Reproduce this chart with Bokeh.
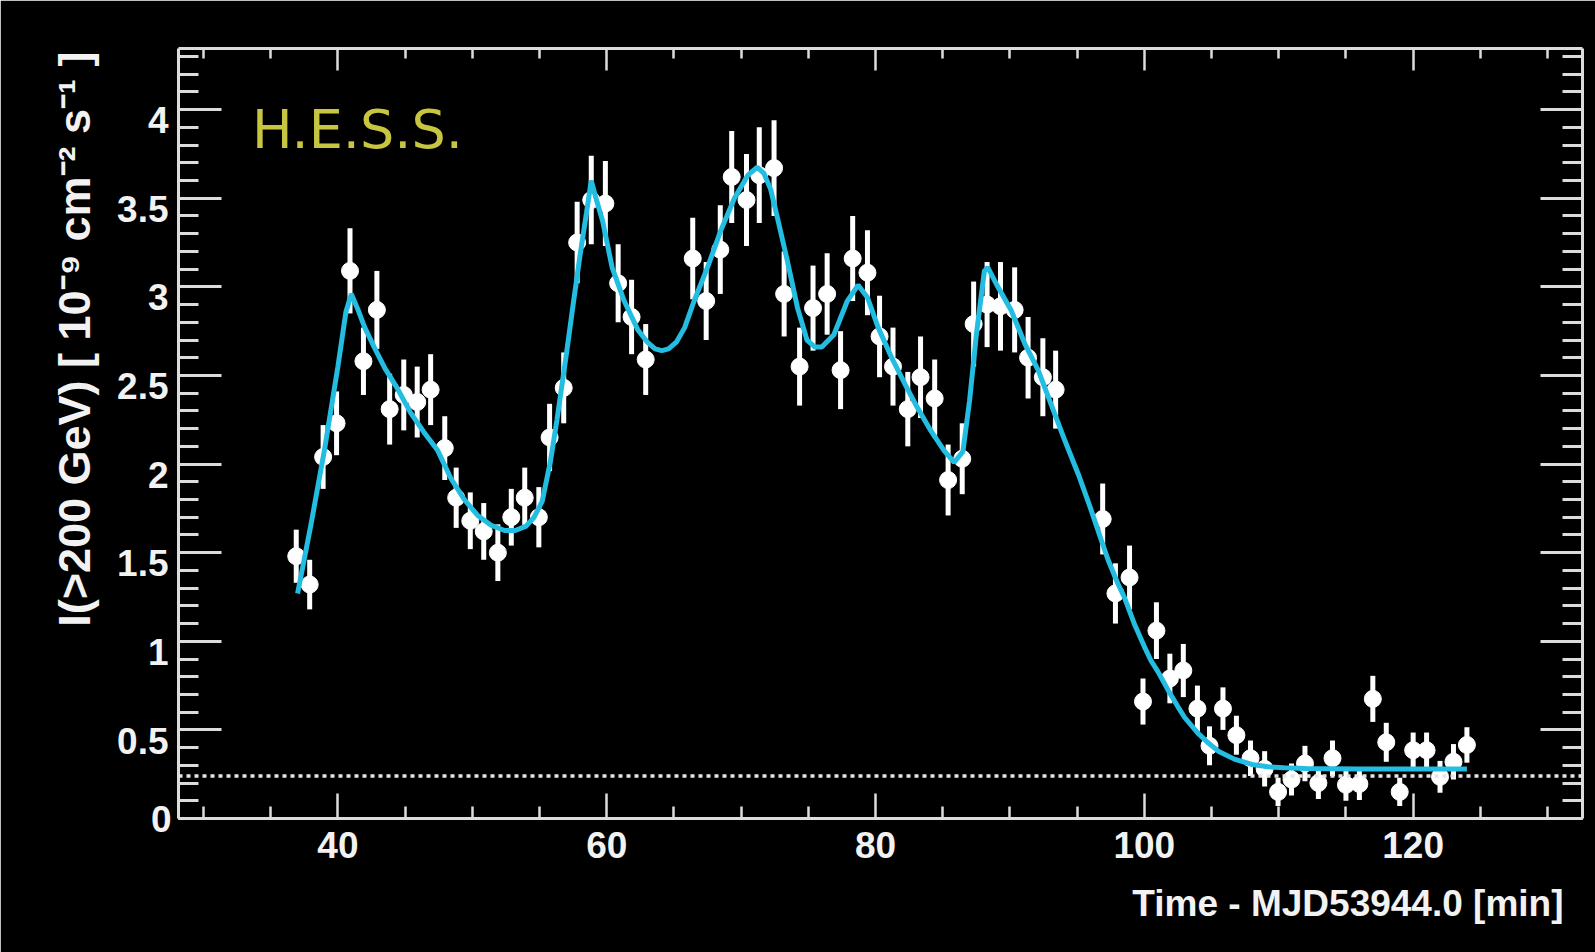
import math
from bokeh.plotting import figure
from bokeh.models import (Range1d, LinearAxis, FixedTicker, Span, Label, Title,
                          ColumnDataSource, CustomLabelingPolicy)
from bokeh.embed import file_html
from bokeh.resources import INLINE

# ---- data ----
time_min = [36.9, 37.9, 38.9, 39.9, 40.9, 41.9, 42.9, 43.85, 44.9, 45.9, 46.9, 47.95, 48.8, 49.85,
            50.85, 51.9, 52.9, 53.9, 54.95, 55.75, 56.8, 57.8, 58.85, 59.9, 60.85, 61.85, 62.9,
            66.4, 67.4, 68.45, 69.3, 70.4, 71.35, 72.45, 73.2, 74.35, 75.35, 76.4, 77.4, 78.3, 79.4,
            80.3, 81.3, 82.4, 83.35, 84.4, 85.4, 86.45, 87.3, 88.3, 89.3, 90.35, 91.35, 92.45, 93.4,
            96.9, 97.85, 98.9, 99.9, 100.9, 101.9, 102.9, 103.95, 104.85, 105.85, 106.85, 107.9,
            108.95, 109.95, 110.95, 111.95, 112.95, 114.0, 115.0, 116.0, 117.0, 118.0, 119.0, 120.0,
            121.0, 122.0, 123.0, 124.0]
flux = [1.48, 1.32, 2.04, 2.23, 3.09, 2.58, 2.87, 2.31, 2.39, 2.35, 2.42, 2.09, 1.81, 1.68,
        1.62, 1.50, 1.70, 1.81, 1.70, 2.15, 2.43, 3.25, 3.49, 3.47, 3.02, 2.83, 2.59,
        3.16, 2.92, 3.21, 3.62, 3.49, 3.63, 3.67, 2.96, 2.55, 2.88, 2.96, 2.53, 3.16, 3.08,
        2.72, 2.55, 2.31, 2.49, 2.37, 1.91, 2.03, 2.79, 2.90, 2.89, 2.87, 2.60, 2.49, 2.42,
        1.69, 1.27, 1.36, 0.66, 1.06, 0.79, 0.835, 0.62, 0.41, 0.62, 0.47, 0.34,
        0.28, 0.15, 0.22, 0.31, 0.20, 0.34, 0.19, 0.195, 0.675, 0.43, 0.15, 0.385,
        0.385, 0.235, 0.32, 0.415]
flux_err = [0.15, 0.14, 0.18, 0.18, 0.24, 0.19, 0.22, 0.20, 0.20, 0.20, 0.20, 0.18, 0.17, 0.16,
            0.16, 0.16, 0.16, 0.17, 0.17, 0.19, 0.20, 0.23, 0.25, 0.24, 0.22, 0.21, 0.20,
            0.23, 0.22, 0.25, 0.26, 0.26, 0.27, 0.27, 0.24, 0.22, 0.24, 0.23, 0.22, 0.24, 0.24,
            0.23, 0.22, 0.21, 0.23, 0.22, 0.20, 0.20, 0.24, 0.24, 0.25, 0.24, 0.23, 0.22, 0.22,
            0.20, 0.17, 0.18, 0.13, 0.16, 0.14, 0.15, 0.13, 0.11, 0.12, 0.11, 0.10,
            0.10, 0.08, 0.09, 0.10, 0.09, 0.10, 0.09, 0.09, 0.13, 0.11, 0.08, 0.10,
            0.10, 0.09, 0.10, 0.10]

fit_time = [37.0, 38.0, 39.0, 40.0, 40.6, 41.0, 41.5, 42.0, 42.7, 43.5, 44.4, 45.4, 46.4, 47.4,
            48.4, 49.4, 50.4, 51.4, 52.4, 53.2, 54.0, 54.6, 55.2, 55.8, 56.3, 57.0, 57.5, 58.0,
            58.5, 58.85, 59.2, 59.7, 60.4, 61.3, 62.3, 63.0, 63.6, 64.1, 64.6, 65.2, 65.8, 66.5,
            67.5, 68.5, 69.5, 70.5, 71.2, 71.7, 72.2, 72.7, 73.4, 74.2, 74.9, 75.5, 76.0, 76.9,
            77.9, 78.7, 79.4, 80.2, 81.2, 82.2, 83.1, 84.1, 85.1, 85.85, 86.5, 87.0, 87.5, 88.1,
            88.35, 89.1, 90.1, 91.1, 92.1, 93.1, 94.1, 95.1, 96.0, 96.8, 97.3, 98.0, 98.5, 99.3,
            100.0, 100.5, 101.0, 101.8, 102.5, 103.0, 104.0, 104.7, 105.5, 106.7, 108.0, 109.2,
            110.4, 112.0, 116.0, 120.0, 124.0]
fit_flux = [1.27, 1.66, 2.08, 2.55, 2.86, 2.96, 2.87, 2.77, 2.66, 2.54, 2.43, 2.29, 2.18, 2.08,
            1.92, 1.80, 1.71, 1.655, 1.625, 1.625, 1.65, 1.70, 1.79, 2.01, 2.25, 2.62, 2.90, 3.17,
            3.42, 3.60, 3.50, 3.37, 3.11, 2.92, 2.76, 2.69, 2.65, 2.64, 2.65, 2.69, 2.77, 2.92,
            3.11, 3.32, 3.50, 3.63, 3.675, 3.64, 3.55, 3.39, 3.16, 2.88, 2.70, 2.66, 2.66, 2.73,
            2.92, 3.01, 2.94, 2.77, 2.60, 2.45, 2.32, 2.19, 2.076, 2.01, 2.07, 2.36, 2.73, 3.09,
            3.11, 3.00, 2.866, 2.68, 2.53, 2.33, 2.13, 1.94, 1.75, 1.57, 1.46, 1.33, 1.25, 1.09,
            0.97, 0.89, 0.83, 0.72, 0.63, 0.57, 0.48, 0.43, 0.38, 0.335, 0.305, 0.292,
            0.286, 0.282, 0.28, 0.28, 0.28]

crab_level = 0.24

x_major = [40, 60, 80, 100, 120]
x_minor = [30, 35, 45, 50, 55, 65, 70, 75, 85, 90, 95, 105, 110, 115, 125, 130]
y_major = [0, 0.5, 1, 1.5, 2, 2.5, 3, 3.5, 4]
y_major_labels = ["0", "0.5", "1", "1.5", "2", "2.5", "3", "3.5", "4"]
y_minor = [round(0.1 * i, 1) for i in range(44)]

x_title = "Time - MJD53944.0 [min]"
y_title = "I(>200 GeV) [ 10\u207b\u2079 cm\u207b\u00b2 s\u207b\u00b9 ]"
brand = "H.E.S.S."

# ---- styles ----
FRAME = "#dcdcdc"
TEXT = "#f2f2f2"
FIT = "#22bde0"
FONT = "Liberation Sans"
X_RANGE = (28.14, 132.6)
Y_RANGE = (0.0, 4.345)
LABEL_SHIFT = 0.06   # ROOT draws the y tick labels slightly below their ticks

src = ColumnDataSource(dict(
    t=time_min, f=flux,
    lo=[f - e for f, e in zip(flux, flux_err)],
    hi=[f + e for f, e in zip(flux, flux_err)],
))

p = figure(width=1595, height=952, output_backend="svg", toolbar_location=None,
           x_range=Range1d(*X_RANGE), y_range=Range1d(*Y_RANGE),
           min_border_left=178, min_border_right=13, min_border_top=48, min_border_bottom=134,
           background_fill_color="black", border_fill_color="black", outline_line_color=None)
p.grid.visible = False
p.extra_y_ranges = {"ylab": Range1d(Y_RANGE[0] + LABEL_SHIFT, Y_RANGE[1] + LABEL_SHIFT)}

no_labels = CustomLabelingPolicy(code="return new Set()")
first_label_only = CustomLabelingPolicy(code="""
    const r = new Set()
    for (const i of indices) { if (i == 0) r.add(i) }
    return r
""")


def style_axis(ax, major_in, minor_in, width, show_labels):
    ax.axis_line_color = FRAME
    ax.axis_line_width = 3
    ax.major_tick_line_color = FRAME
    ax.minor_tick_line_color = FRAME
    ax.major_tick_line_width = width
    ax.minor_tick_line_width = width
    ax.major_tick_in = major_in
    ax.major_tick_out = 0
    ax.minor_tick_in = minor_in
    ax.minor_tick_out = 0
    if show_labels:
        ax.major_label_text_color = TEXT
        ax.major_label_text_font = FONT
        ax.major_label_text_font_style = "bold"
        ax.major_label_text_font_size = "37px"
    else:
        ax.major_label_policy = no_labels
        ax.major_label_standoff = 0
        ax.major_label_text_font_size = "0px"


xb = p.xaxis[0]
xb.ticker = FixedTicker(ticks=x_major, minor_ticks=x_minor)
style_axis(xb, 25, 12, 2.5, True)
xb.major_label_standoff = 13

# left axis: frame line + ticks, and the "0" label (which sits at the frame corner)
yl = p.yaxis[0]
yl.ticker = FixedTicker(ticks=y_major, minor_ticks=y_minor)
style_axis(yl, 43, 20, 3, True)
yl.major_label_standoff = 7
yl.major_label_policy = first_label_only
yl.major_label_overrides = {v: (s if i == 0 else "") for i, (v, s) in
                            enumerate(zip(y_major, y_major_labels))}
ZERO_W = 28  # width taken by the "0" label panel

# left axis carrying the other tick labels, drawn a little below their ticks
ylab = LinearAxis(y_range_name="ylab",
                  ticker=FixedTicker(ticks=y_major[1:], minor_ticks=[]))
ylab.axis_line_color = None
ylab.major_tick_line_color = None
ylab.minor_tick_line_color = None
ylab.major_tick_in = 0
ylab.major_tick_out = 0
ylab.minor_tick_in = 0
ylab.minor_tick_out = 0
ylab.major_label_text_color = TEXT
ylab.major_label_text_font = FONT
ylab.major_label_text_font_style = "bold"
ylab.major_label_text_font_size = "37px"
ylab.major_label_standoff = 7 - ZERO_W
ylab.major_label_overrides = {v: s for v, s in zip(y_major[1:], y_major_labels[1:])}
p.add_layout(ylab, "left")

xa = LinearAxis(ticker=FixedTicker(ticks=x_major, minor_ticks=x_minor))
style_axis(xa, 22, 10, 2.5, False)
p.add_layout(xa, "above")

yr = LinearAxis(ticker=FixedTicker(ticks=y_major, minor_ticks=y_minor))
style_axis(yr, 42, 20, 3, False)
p.add_layout(yr, "right")

# axis titles (ROOT style: aligned to the end of the axis)
p.add_layout(Title(text=x_title, align="right", offset=19, standoff=40,
                   text_font=FONT, text_font_style="bold", text_font_size="37px",
                   text_color=TEXT), "below")
p.add_layout(Title(text=y_title, align="right", offset=3, standoff=30,
                   text_font=FONT, text_font_style="bold", text_font_size="45px",
                   text_color=TEXT), "left")

# reference level (dotted)
p.add_layout(Span(location=crab_level, dimension="width", line_color="#e6e6e6",
                  line_width=3.5, line_dash="4 4"))

# data with error bars
p.segment(x0="t", y0="lo", x1="t", y1="hi", source=src, line_color="white", line_width=5)
p.scatter(x="t", y="f", source=src, size=17, color="white", line_color="white")

# fitted curve
p.line(fit_time, fit_flux, line_color=FIT, line_width=5)

# experiment tag
p.add_layout(Label(x=33.6, y=3.89, text=brand, text_font="DejaVu Sans", text_font_size="54px",
                   text_color="#c8c640", text_align="left", text_baseline="alphabetic"))

open("out.html", "w").write(file_html(p, INLINE))
